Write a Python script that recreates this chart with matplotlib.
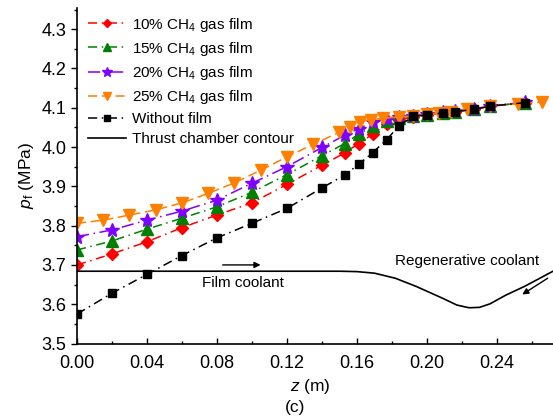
import matplotlib
matplotlib.use("Agg")
import matplotlib.pyplot as plt
from matplotlib.ticker import MultipleLocator

plt.rcParams['font.family'] = ['Liberation Sans', 'DejaVu Sans']
plt.rcParams['mathtext.fontset'] = 'custom'
plt.rcParams['mathtext.rm'] = 'Liberation Sans'
plt.rcParams['mathtext.it'] = 'Liberation Sans:italic'

# axial positions (m)
z_main = [0, 0.02, 0.04, 0.06, 0.08, 0.10, 0.12, 0.14, 0.153, 0.161, 0.169,
          0.177, 0.184, 0.192, 0.200, 0.209, 0.216, 0.227, 0.236, 0.256]
z_25 = [0, 0.015, 0.03, 0.045, 0.06, 0.075, 0.09, 0.105, 0.12, 0.135, 0.150,
        0.156, 0.162, 0.168, 0.175, 0.184, 0.192, 0.200, 0.207, 0.214, 0.223,
        0.236, 0.252, 0.266]

# pressure (MPa)
p_10 = [3.700, 3.728, 3.759, 3.795, 3.827, 3.858, 3.905, 3.954, 3.985, 4.009,
        4.033, 4.058, 4.069, 4.077, 4.081, 4.086, 4.090, 4.096, 4.104, 4.113]
p_15 = [3.738, 3.761, 3.791, 3.819, 3.848, 3.885, 3.930, 3.978, 4.009, 4.033,
        4.053, 4.067, 4.073, 4.078, 4.082, 4.087, 4.090, 4.096, 4.104, 4.113]
p_20 = [3.772, 3.789, 3.814, 3.837, 3.865, 3.908, 3.950, 3.999, 4.030, 4.047,
        4.064, 4.072, 4.077, 4.080, 4.083, 4.088, 4.091, 4.097, 4.105, 4.114]
p_25 = [3.806, 3.814, 3.827, 3.840, 3.858, 3.882, 3.909, 3.941, 3.975, 4.007,
        4.038, 4.052, 4.065, 4.070, 4.073, 4.077, 4.079, 4.083, 4.086, 4.090,
        4.096, 4.104, 4.110, 4.115]
p_none = [3.575, 3.628, 3.676, 3.724, 3.769, 3.806, 3.844, 3.896, 3.929, 3.956,
          3.986, 4.019, 4.054, 4.078, 4.082, 4.087, 4.090, 4.096, 4.104, 4.113]

# thrust chamber contour (drawn in pressure units)
z_wall = [0, 0.150, 0.160, 0.170, 0.182, 0.194, 0.209, 0.217, 0.224, 0.230,
          0.236, 0.245, 0.256, 0.264, 0.272]
p_wall = [3.684, 3.684, 3.683, 3.679, 3.666, 3.645, 3.615, 3.598, 3.591, 3.592,
          3.601, 3.623, 3.646, 3.665, 3.684]

fig = plt.figure(figsize=(5.53, 4.18), dpi=100)
ax = fig.add_axes([0.1392, 0.1782, 0.8608, 0.8018])

ax.plot(z_main, p_10, color='#ff0000', ls=(0, (6, 3, 1, 3)), lw=1.1,
        marker='D', ms=6, label='10% CH$_4$ gas film')
ax.plot(z_main, p_15, color='#008000', ls=(0, (6, 3, 1, 3)), lw=1.1,
        marker='^', ms=8, label='15% CH$_4$ gas film')
ax.plot(z_main, p_20, color='#7f00ff', ls=(0, (8, 3, 1, 3)), lw=1.1,
        marker='*', ms=10, label='20% CH$_4$ gas film')
ax.plot(z_25, p_25, color='#ff8000', ls=(0, (6, 3)), lw=1.1,
        marker='v', ms=8, label='25% CH$_4$ gas film')
ax.plot(z_main, p_none, color='black', ls=(0, (6, 3, 1, 3)), lw=1.1,
        marker='s', ms=5.5, label='Without film')
ax.plot(z_wall, p_wall, color='black', lw=1.2, label='Thrust chamber contour')

# coolant direction arrows
ax.annotate('', xy=(0.1065, 3.700), xytext=(0.0817, 3.700),
            arrowprops=dict(arrowstyle='-|>', color='black', lw=1, mutation_scale=9))
ax.annotate('', xy=(0.2531, 3.621), xytext=(0.2703, 3.670),
            arrowprops=dict(arrowstyle='-|>', color='black', lw=1, mutation_scale=9))
ax.text(0.095, 3.653, 'Film coolant', fontsize=11, ha='center', va='center')
ax.text(0.2227, 3.711, 'Regenerative coolant', fontsize=11, ha='center', va='center')

ax.set_xlim(0, 0.272)
ax.set_ylim(3.5, 4.353)
ax.xaxis.set_major_locator(MultipleLocator(0.04))
ax.xaxis.set_minor_locator(MultipleLocator(0.02))
ax.yaxis.set_major_locator(MultipleLocator(0.1))
ax.yaxis.set_minor_locator(MultipleLocator(0.05))
ax.xaxis.set_major_formatter(plt.FormatStrFormatter('%.2f'))
ax.yaxis.set_major_formatter(plt.FormatStrFormatter('%.1f'))
ax.tick_params(axis='x', which='both', direction='in', labelsize=13, pad=8)
ax.tick_params(axis='y', which='both', direction='out', labelsize=13)
ax.tick_params(which='major', length=4, width=1)
ax.tick_params(which='minor', length=2.5, width=1)
ax.spines['top'].set_visible(False)
ax.spines['right'].set_visible(False)
for s in ('left', 'bottom'):
    ax.spines[s].set_linewidth(1.2)

ax.set_xlabel('$\\mathit{z}$ (m)', fontsize=12.5)
ax.set_ylabel('$\\mathit{p}_\\mathrm{f}$ (MPa)', fontsize=12.5, labelpad=4)
ax.xaxis.set_label_coords(0.49, -0.1)
fig.text(0.533, 0.025, '(c)', fontsize=12.5, ha='center', va='center')

ax.legend(loc='upper left', bbox_to_anchor=(0.0, 1.01), frameon=False,
          fontsize=11, handlelength=2.5, handletextpad=0.4, labelspacing=0.4,
          markerscale=0.75, borderaxespad=0.3)

fig.savefig('out.png', dpi=100)
